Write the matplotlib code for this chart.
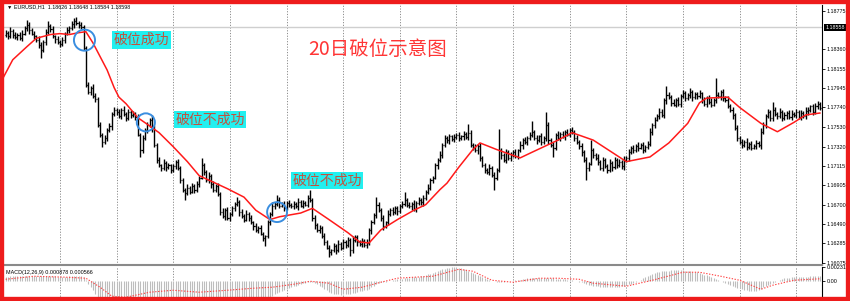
import matplotlib.pyplot as plt
import numpy as np

# EURUSD H1 closes, one row per grid day (24 bars)
closes = [
    1.1854, 1.1850, 1.1856, 1.1852, 1.1849, 1.1852, 1.1848, 1.1853, 1.1859, 1.1862, 1.1857, 1.1853,
    1.1850, 1.1846, 1.1841, 1.1835, 1.1844, 1.1855, 1.1861, 1.1858, 1.1850, 1.1847, 1.1844, 1.1842,
    1.1846, 1.1853, 1.1857, 1.1859, 1.1863, 1.1867, 1.1864, 1.1862, 1.1860, 1.1838, 1.1798, 1.1791,
    1.1795, 1.1786, 1.1783, 1.1755, 1.1745, 1.1737, 1.1741, 1.1750, 1.1754, 1.1767, 1.1771, 1.1769,
    1.1765, 1.1771, 1.1767, 1.1763, 1.1769, 1.1766, 1.1767, 1.1764, 1.1745, 1.1728, 1.1741, 1.1750,
    1.1755, 1.1761, 1.1752, 1.1734, 1.1718, 1.1712, 1.1709, 1.1715, 1.1710, 1.1712, 1.1707, 1.1711,
    1.1716, 1.1709, 1.1696, 1.1686, 1.1682, 1.1688, 1.1684, 1.1690, 1.1686, 1.1692, 1.1699, 1.1712,
    1.1705, 1.1696, 1.1701, 1.1692, 1.1686, 1.1690, 1.1681, 1.1662, 1.1658, 1.1664, 1.1656, 1.1660,
    1.1666, 1.1671, 1.1673, 1.1662, 1.1658, 1.1654, 1.1660, 1.1656, 1.1651, 1.1647, 1.1643, 1.1645,
    1.1639, 1.1634, 1.1636, 1.1651, 1.1660, 1.1669, 1.1671, 1.1675, 1.1669, 1.1671, 1.1666, 1.1672,
    1.1670, 1.1668, 1.1671, 1.1668, 1.1673, 1.1669, 1.1672, 1.1670, 1.1677, 1.1675, 1.1656, 1.1648,
    1.1643, 1.1645, 1.1636, 1.1630, 1.1624, 1.1619, 1.1621, 1.1626, 1.1621, 1.1628, 1.1624, 1.1630,
    1.1627, 1.1632, 1.1621, 1.1632, 1.1635, 1.1630, 1.1628, 1.1631, 1.1627, 1.1629, 1.1643, 1.1651,
    1.1659, 1.1670, 1.1664, 1.1656, 1.1647, 1.1651, 1.1660, 1.1664, 1.1662, 1.1666, 1.1663, 1.1669,
    1.1671, 1.1675, 1.1670, 1.1668, 1.1671, 1.1665, 1.1672, 1.1675, 1.1673, 1.1677, 1.1684, 1.1688,
    1.1696, 1.1699, 1.1712, 1.1718, 1.1723, 1.1734, 1.1741, 1.1739, 1.1743, 1.1740, 1.1742, 1.1745,
    1.1741, 1.1743, 1.1746, 1.1742, 1.1747, 1.1734, 1.1731, 1.1728, 1.1733, 1.1720, 1.1712, 1.1707,
    1.1705, 1.1709, 1.1702, 1.1699, 1.1707, 1.1728, 1.1723, 1.1718, 1.1726, 1.1720, 1.1723, 1.1726,
    1.1722, 1.1728, 1.1734, 1.1739, 1.1737, 1.1741, 1.1745, 1.1748, 1.1741, 1.1739, 1.1743, 1.1737,
    1.1741, 1.1755, 1.1739, 1.1734, 1.1731, 1.1745, 1.1741, 1.1746, 1.1743, 1.1748, 1.1745, 1.1750,
    1.1748, 1.1741, 1.1737, 1.1733, 1.1726, 1.1718, 1.1709, 1.1714, 1.1728, 1.1723, 1.1720, 1.1716,
    1.1709, 1.1718, 1.1711, 1.1707, 1.1715, 1.1710, 1.1718, 1.1712, 1.1716, 1.1711, 1.1718, 1.1720,
    1.1726, 1.1731, 1.1728, 1.1733, 1.1731, 1.1734, 1.1728, 1.1732, 1.1735, 1.1748, 1.1755, 1.1761,
    1.1765, 1.1769, 1.1766, 1.1782, 1.1787, 1.1785, 1.1779, 1.1777, 1.1782, 1.1778, 1.1786, 1.1789,
    1.1784, 1.1787, 1.1791, 1.1785, 1.1788, 1.1786, 1.1789, 1.1782, 1.1778, 1.1784, 1.1780, 1.1777,
    1.1782, 1.1787, 1.1786, 1.1791, 1.1784, 1.1782, 1.1776, 1.1771, 1.1766, 1.1752, 1.1741, 1.1737,
    1.1734, 1.1737, 1.1732, 1.1735, 1.1731, 1.1733, 1.1736, 1.1734, 1.1748, 1.1755, 1.1765, 1.1769,
    1.1763, 1.1771, 1.1767, 1.1765, 1.1769, 1.1763, 1.1766, 1.1768, 1.1764, 1.1767, 1.1766, 1.1769,
    1.1764, 1.1768, 1.1765, 1.1770, 1.1771, 1.1775, 1.1769, 1.1775, 1.1778, 1.1773,
]
first_open = 1.1851

# shadows above / below the bar body, in pips
wick_up = [
    3, 2, 4, 2, 3, 2, 3, 4, 2, 6, 3, 2, 3, 2, 4, 3, 2, 3, 6, 2, 3, 2, 3, 2,
    3, 2, 3, 2, 4, 3, 4, 2, 3, 2, 2, 3, 2, 4, 3, 2, 3, 2, 4, 2, 3, 2, 3, 2,
    3, 2, 4, 2, 3, 2, 3, 2, 3, 2, 4, 2, 3, 2, 5, 3, 2, 3, 2, 4, 2, 3, 2, 3,
    2, 3, 2, 3, 2, 4, 2, 3, 2, 3, 2, 8, 3, 2, 4, 2, 3, 2, 3, 2, 4, 2, 3, 2,
    3, 2, 5, 2, 3, 2, 4, 2, 3, 2, 3, 2, 3, 2, 2, 3, 2, 4, 2, 5, 3, 2, 3, 2,
    3, 2, 3, 2, 4, 2, 3, 2, 3, 9, 2, 3, 2, 3, 2, 4, 2, 3, 2, 3, 2, 4, 2, 3,
    2, 3, 2, 4, 2, 3, 2, 3, 2, 4, 2, 3, 2, 8, 3, 2, 3, 2, 4, 2, 3, 2, 3, 2,
    3, 8, 2, 3, 2, 4, 2, 3, 2, 3, 2, 4, 3, 2, 3, 2, 4, 2, 3, 2, 3, 2, 4, 2,
    3, 2, 3, 2, 9, 3, 2, 4, 2, 3, 2, 3, 2, 4, 2, 3, 2, 23, 3, 2, 4, 2, 3, 2,
    3, 2, 4, 2, 3, 2, 3, 11, 2, 3, 2, 4, 2, 14, 3, 2, 3, 2, 4, 2, 3, 2, 3, 2,
    3, 2, 4, 2, 3, 2, 3, 2, 11, 3, 2, 4, 2, 3, 2, 3, 4, 2, 3, 2, 3, 2, 4, 2,
    3, 2, 3, 2, 4, 2, 3, 2, 3, 4, 2, 3, 2, 4, 3, 2, 10, 3, 2, 4, 2, 3, 2, 4,
    3, 2, 4, 2, 3, 2, 4, 2, 3, 2, 3, 4, 2, 19, 3, 2, 3, 2, 4, 2, 3, 2, 3, 2,
    3, 2, 4, 2, 3, 2, 3, 2, 4, 3, 2, 3, 2, 9, 3, 2, 4, 2, 3, 2, 3, 4, 2, 3,
    2, 3, 2, 4, 3, 2, 3, 4, 3, 2,
]
wick_down = [
    2, 3, 2, 4, 2, 3, 2, 3, 2, 3, 4, 2, 3, 2, 3, 8, 2, 3, 2, 3, 2, 4, 2, 3,
    2, 3, 2, 3, 2, 4, 2, 3, 2, 3, 2, 3, 4, 2, 3, 2, 3, 5, 2, 3, 2, 4, 2, 3,
    2, 3, 2, 4, 2, 3, 2, 3, 2, 7, 3, 2, 3, 2, 4, 2, 3, 2, 3, 2, 4, 2, 3, 2,
    3, 2, 3, 2, 7, 2, 3, 2, 4, 2, 3, 2, 3, 2, 3, 4, 2, 3, 2, 3, 2, 4, 2, 3,
    2, 3, 2, 4, 2, 3, 2, 3, 2, 4, 2, 3, 2, 3, 8, 2, 3, 2, 4, 2, 3, 2, 3, 2,
    3, 2, 3, 2, 4, 2, 3, 2, 3, 2, 3, 4, 2, 3, 2, 3, 2, 5, 3, 2, 4, 2, 3, 2,
    3, 2, 6, 3, 2, 4, 2, 3, 2, 3, 2, 4, 2, 3, 2, 3, 4, 2, 3, 2, 3, 2, 4, 2,
    3, 2, 3, 2, 4, 2, 3, 2, 3, 4, 2, 3, 2, 3, 2, 4, 2, 3, 2, 3, 4, 2, 3, 2,
    3, 2, 4, 2, 3, 2, 3, 2, 4, 3, 2, 3, 2, 3, 2, 13, 3, 2, 4, 2, 3, 2, 3, 2,
    2, 3, 2, 4, 2, 3, 2, 3, 2, 4, 2, 3, 2, 3, 4, 2, 10, 3, 2, 3, 2, 4, 2, 3,
    2, 3, 2, 3, 4, 2, 13, 3, 2, 3, 2, 4, 2, 3, 2, 3, 2, 4, 2, 3, 2, 3, 4, 2,
    3, 2, 3, 2, 4, 2, 3, 2, 3, 2, 4, 3, 2, 3, 2, 3, 4, 2, 3, 2, 3, 2, 4, 2,
    3, 2, 3, 4, 2, 3, 2, 3, 2, 4, 2, 3, 2, 3, 2, 4, 3, 2, 3, 2, 4, 2, 3, 2,
    3, 2, 4, 2, 3, 2, 3, 2, 4, 2, 3, 2, 3, 4, 2, 3, 2, 3, 2, 4, 2, 3, 2, 3,
    2, 3, 2, 3, 4, 2, 3, 2, 3, 2,
]

# 20 period moving average, read at a few bars
ma_bar = [-1, 3, 9, 13, 19, 23, 27, 31, 34, 37, 43, 46, 48, 51, 56, 60, 65, 71, 77, 82,
          88, 94, 101, 106, 112, 116, 125, 130, 137, 145, 150, 154, 159, 166, 173, 178, 184, 187, 192, 198,
          201, 208, 218, 223, 234, 240, 249, 263, 273, 281, 289, 294, 297, 306, 311, 320, 327, 334, 339, 345]
ma_vals = [1.1806, 1.1825, 1.1839, 1.1848, 1.1852, 1.1853, 1.1852, 1.1854, 1.1855, 1.1843,
           1.1814, 1.1795, 1.1785, 1.1778, 1.1763, 1.1756, 1.1747, 1.1732, 1.1716, 1.1701,
           1.1694, 1.1687, 1.1678, 1.1664, 1.1654, 1.1657, 1.1661, 1.1666, 1.1654, 1.1640,
           1.1630, 1.1629, 1.1643, 1.1654, 1.1664, 1.1670, 1.1686, 1.1693, 1.1710, 1.1729,
           1.1736, 1.1729, 1.1720, 1.1726, 1.1739, 1.1747, 1.1739, 1.1716, 1.1721, 1.1736,
           1.1757, 1.1779, 1.1784, 1.1785, 1.1774, 1.1757, 1.1748, 1.1758, 1.1766, 1.1768]

# MACD main (histogram) in 1e-5
macd_e5 = [
    72, 75, 78, 80, 83, 85, 86, 88, 90, 92, 93, 92, 90, 88, 85, 80, 78, 80, 84, 86, 84, 80, 76, 72,
    70, 72, 76, 80, 84, 88, 90, 88, 85, 70, 20, -40, -95, -150, -200, -260, -310, -350, -370, -375, -370, -355, -340, -325,
    -315, -305, -298, -290, -282, -275, -268, -262, -268, -285, -290, -284, -275, -262, -255, -260, -272, -282, -288, -290, -290, -288, -286, -284,
    -280, -282, -292, -305, -318, -322, -325, -324, -322, -316, -305, -285, -275, -272, -268, -270, -274, -275, -280, -295, -305, -310, -312, -310,
    -302, -292, -282, -280, -280, -279, -276, -275, -276, -278, -282, -285, -288, -290, -288, -275, -255, -232, -210, -188, -170, -152, -138, -122,
    -108, -95, -82, -70, -58, -46, -36, -26, -15, -6, -15, -32, -52, -74, -98, -122, -148, -172, -190, -202, -210, -214, -216, -214,
    -210, -205, -202, -194, -185, -175, -165, -155, -145, -135, -118, -98, -76, -50, -32, -20, -14, -8, 0, 10, 18, 26, 32, 38,
    44, 50, 54, 58, 62, 66, 70, 74, 80, 88, 98, 110, 122, 136, 150, 165, 180, 192, 202, 210, 218, 224, 228, 230,
    222, 212, 200, 186, 172, 156, 140, 122, 104, 86, 68, 52, 36, 22, 10, 0, -8, -12, -10, -6, -2, 2, 6, 10,
    16, 22, 28, 34, 40, 46, 50, 54, 56, 58, 58, 56, 54, 52, 50, 48, 46, 44, 42, 40, 36, 32, 28, 24,
    18, 10, 2, -8, -20, -34, -48, -60, -68, -74, -78, -82, -86, -90, -93, -95, -96, -96, -95, -92, -88, -82, -74, -64,
    -52, -38, -22, -6, 10, 28, 46, 64, 82, 100, 116, 130, 142, 152, 160, 166, 170, 174, 176, 178, 180, 180, 178, 176,
    172, 168, 164, 158, 150, 142, 132, 120, 108, 94, 80, 66, 50, 34, 18, 2, -14, -30, -46, -62, -76, -90, -104, -116,
    -128, -140, -150, -158, -162, -160, -152, -138, -120, -100, -80, -60, -40, -22, -6, 10, 24, 36, 46, 54, 60, 64, 66, 68,
    68, 68, 70, 72, 74, 78, 82, 84, 86, 88,
]
signal_bar = [0, 12, 26, 34, 40, 45, 51, 61, 71, 82, 94, 105, 113, 122, 129, 137, 143, 151, 159, 166,
              173, 181, 192, 198, 206, 215, 226, 234, 243, 249, 263, 274, 287, 294, 303, 311, 320, 325, 334, 345]
signal_e5 = [32, 81, 65, 49, -97, -243, -259, -178, -146, -178, -146, -113, -97, -49, 0, -32, -130, -97, -16, 49,
             65, 81, 194, 162, 16, -16, 49, 49, 32, -32, -81, 16, 146, 146, 81, 16, -130, -65, 16, 40]

price_ticks = [1.18775, 1.18360, 1.18155, 1.17945, 1.17740, 1.17530, 1.17320,
               1.17115, 1.16905, 1.16700, 1.16490, 1.16285, 1.16075]
macd_ticks = [0.00231, 0.0, -0.00288]
macd_tick_labels = ["0.00231", "0.00", "-0.00288"]
bid_price = 1.18598
bid_label = "1.18558"
header = "\u25bc EURUSD,H1  1.18626 1.18648 1.18584 1.18598"
macd_header = "MACD(12,26,9) 0.000878 0.000566"

break_bar = [33.4, 59.4, 115]
break_price = [1.1846, 1.1758, 1.1662]

plt.rcParams["font.family"] = ["Liberation Sans", "DejaVu Sans"]

W, H = 850, 301
fig = plt.figure(figsize=(W / 100, H / 100), dpi=100)
ax = fig.add_axes([4 / W, 1 - 265 / H, 818 / W, 260 / H])
ax2 = fig.add_axes([4 / W, 1 - 299 / H, 818 / W, 32 / H])

idx = np.arange(len(closes))
c = np.array(closes)
o = np.array([first_open] + closes[:-1])
hi = np.maximum(o, c) + np.array(wick_up) * 1e-4
lo = np.minimum(o, c) - np.array(wick_down) * 1e-4

ax.vlines(idx, lo, hi, color="black", lw=1.0, zorder=3)
ax.hlines(o, idx - 0.45, idx, color="black", lw=0.9, zorder=3)
ax.hlines(c, idx, idx + 0.45, color="black", lw=0.9, zorder=3)
ax.plot(ma_bar, ma_vals, color="#ff1a1a", lw=1.1, zorder=4)
ax.axhline(bid_price, color="#cfcfcf", lw=1.0, zorder=1)

macd = np.array(macd_e5) * 1e-5
ax2.vlines(idx, 0, macd, color="#bdbdbd", lw=0.8, zorder=2)
ax2.plot(signal_bar, np.array(signal_e5) * 1e-5, color="#ff4040", lw=0.8,
         ls=(0, (1.2, 1.4)), zorder=3)

for a in (ax, ax2):
    a.set_xlim(-0.7, 345.9)
    a.set_xticks([])
    for g in range(23, len(closes), 24):
        a.axvline(g, color="#8c8c8c", lw=0.7, ls=(0, (1.2, 1.6)), zorder=0)
    a.yaxis.tick_right()
    a.tick_params(axis="y", length=2.5, width=0.6, pad=1, labelsize=3.9)
    a.spines["left"].set_visible(False)
    a.spines["top"].set_visible(False)
    a.spines["right"].set_linewidth(0.8)

ax.set_ylim(1.16054, 1.18836)
ax.set_yticks(price_ticks)
ax.set_yticklabels([f"{t:.5f}" for t in price_ticks])
ax.spines["bottom"].set_color("#8a8a8a")
ax.spines["bottom"].set_linewidth(1.5)

ax2.set_ylim(-0.00288, 0.00231)
ax2.set_yticks(macd_ticks)
ax2.set_yticklabels(macd_tick_labels)
ax2.spines["bottom"].set_visible(False)

ax.text(1.004, bid_price, bid_label, transform=ax.get_yaxis_transform(), ha="left", va="center",
        color="white", fontsize=3.9, bbox=dict(facecolor="black", edgecolor="none", pad=0.6))
ax.text(0.0037, 0.992, header, transform=ax.transAxes, ha="left", va="center", fontsize=3.9)
ax2.text(0.002, 0.84, macd_header, transform=ax2.transAxes, ha="left", va="center", fontsize=3.9)

ax.scatter(break_bar, break_price, s=[230, 170, 205], facecolors="none",
           edgecolors="#3a8ee0", linewidths=1.4, zorder=6)

cjk = ["Noto Sans CJK SC", "DejaVu Sans"]
box = dict(facecolor="#22f0f0", edgecolor="none", pad=1.2)
ax.text(57.7, 1.1846, "破位成功", family=cjk, fontsize=10, color="#c2523e",
        ha="center", va="center", bbox=box, zorder=7)
ax.text(86.6, 1.1761, "破位不成功", family=cjk, fontsize=10, color="#c2523e",
        ha="center", va="center", bbox=box, zorder=7)
ax.text(136.1, 1.1696, "破位不成功", family=cjk, fontsize=10, color="#c2523e",
        ha="center", va="center", bbox=box, zorder=7)
ax.text(157.8, 1.1836, "20日破位示意图", family=cjk, fontsize=14, color="#ff3535",
        ha="center", va="center", zorder=7)

fig.add_artist(plt.Rectangle((0, 0), 1, 1, transform=fig.transFigure, fill=False,
                             edgecolor="#ee1c1c", lw=6))

fig.savefig("out.png", dpi=100)
